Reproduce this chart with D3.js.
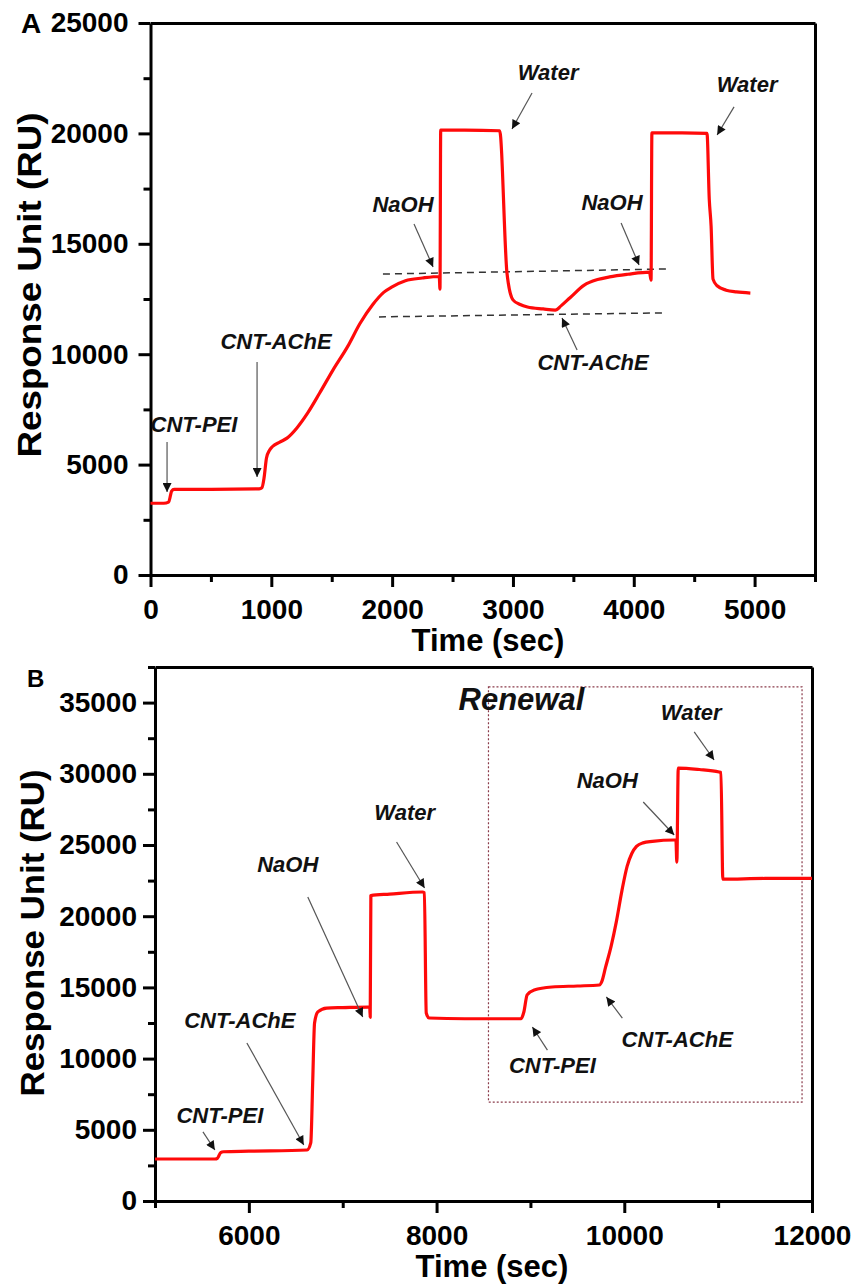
<!DOCTYPE html>
<html>
<head>
<meta charset="utf-8">
<script src="https://cdn.jsdelivr.net/npm/d3@7"></script>
<style>
  body { margin: 0; background: #fff; }
  text { font-family: "Liberation Sans", Arial, sans-serif; font-weight: bold; fill: #000; }
  .ann { font-style: italic; font-size: 22px; fill: #111; }
</style>
</head>
<body>
<div id="chart"></div>
<script>
// ---- data ----
// panel A
var timeA = [0, 110, 150, 175, 195, 230, 500, 900, 922, 940, 960, 985, 1010, 1070, 1130, 1210, 1300, 1400, 1510, 1630, 1735, 1840, 1930, 2000, 2110, 2250, 2390, 2396, 2402, 2600, 2890, 2950, 2962, 3000, 3060, 3120, 3250, 3350, 3400, 3470, 3590, 3700, 3800, 3950, 4130, 4143, 4150, 4400, 4606, 4625, 4640, 4656, 4690, 4765, 4850, 4965];
var respA = [3250, 3250, 3300, 3800, 3880, 3880, 3880, 3900, 3950, 4400, 5300, 5650, 5820, 6020, 6200, 6650, 7330, 8240, 9280, 10330, 11400, 12250, 12800, 13050, 13330, 13450, 13520, 12950, 20150, 20150, 20120, 13700, 13200, 12460, 12250, 12140, 12050, 12000, 12200, 12545, 13130, 13380, 13500, 13620, 13720, 13350, 20020, 20020, 20000, 17000, 15800, 13400, 13100, 12900, 12820, 12770];
var xTicksA = [0, 1000, 2000, 3000, 4000, 5000];
var yTicksA = [0, 5000, 10000, 15000, 20000, 25000];
// baseline guides (dashed)
var guidesA = [
  [[1924, 13630], [4276, 13860]],
  [[1891, 11690], [4242, 11870]]
];
var notesA = [
  {label: "CNT-PEI",  tx: 360,  ty: 6480,  x1: 137,  y1: 6020,  x2: 137,  y2: 3760},
  {label: "CNT-AChE", tx: 1039, ty: 10240, x1: 882,  y1: 9650,  x2: 882,  y2: 4440},
  {label: "NaOH",     tx: 2090, ty: 16440, x1: 2181, y1: 15900, x2: 2339, y2: 13950},
  {label: "Water",    tx: 3291, ty: 22420, x1: 3158, y1: 21830, x2: 2992, y2: 20200},
  {label: "NaOH",     tx: 3820, ty: 16530, x1: 3895, y1: 15940, x2: 4044, y2: 14040},
  {label: "Water",    tx: 4938, ty: 21880, x1: 4830, y1: 21200, x2: 4690, y2: 19930},
  {label: "CNT-AChE", tx: 3663, ty: 9280,  x1: 3531, y1: 10190, x2: 3406, y2: 11640}
];

// panel B
var timeB = [5000, 5640, 5665, 5700, 5730, 6000, 6620, 6660, 6680, 6700, 6735, 6830, 7000, 7270, 7288, 7293, 7300, 7500, 7850, 7870, 7890, 7920, 8300, 8900, 8930, 8965, 9040, 9230, 9500, 9735, 9760, 9800, 9860, 9915, 9975, 10030, 10080, 10130, 10200, 10300, 10530, 10550, 10560, 10575, 10800, 11010, 11030, 11050, 11500, 12000];
var respB = [2950, 2950, 3000, 3400, 3460, 3500, 3580, 4100, 8300, 12500, 13280, 13550, 13580, 13620, 13620, 12900, 21450, 21550, 21700, 21650, 13200, 12850, 12800, 12800, 13270, 14470, 14820, 15030, 15100, 15170, 15400, 16400, 17900, 19600, 21800, 23500, 24400, 24900, 25150, 25250, 25350, 25350, 23800, 30400, 30300, 30130, 30100, 22600, 22650, 22650];
var xTicksB = [6000, 8000, 10000, 12000];
var yTicksB = [0, 5000, 10000, 15000, 20000, 25000, 30000, 35000];
var renewalBox = {t0: 8553, t1: 11894, v0: 6950, v1: 36100};
var notesB = [
  {label: "CNT-PEI",  tx: 5691,  ty: 5480,  x1: 5511,  y1: 4850,  x2: 5638,  y2: 3580},
  {label: "CNT-AChE", tx: 5904,  ty: 12150, x1: 5979,  y1: 11100, x2: 6585,  y2: 3930},
  {label: "NaOH",     tx: 6415,  ty: 23100, x1: 6628,  y1: 21350, x2: 7213,  y2: 12920},
  {label: "Water",    tx: 7660,  ty: 26760, x1: 7574,  y1: 25210, x2: 7872,  y2: 21980},
  {label: "NaOH",     tx: 9819,  ty: 29000, x1: 10202, y1: 28020, x2: 10532, y2: 25700},
  {label: "Water",    tx: 10713, ty: 33780, x1: 10745, y1: 32940, x2: 10957, y2: 30970},
  {label: "CNT-PEI",  tx: 9234,  ty: 8990,  x1: 9181,  y1: 10600, x2: 9021,  y2: 12220},
  {label: "CNT-AChE", tx: 10564, ty: 10810, x1: 9979,  y1: 12850, x2: 9809,  y2: 14330}
];

var svg = d3.select("#chart")
    .append("svg")
    .attr("width", 856)
    .attr("height", 1286);

// arrow head
svg.append("defs").append("marker")
    .attr("id", "head")
    .attr("viewBox", "0 0 10 10")
    .attr("refX", 10)
    .attr("refY", 5)
    .attr("markerWidth", 11)
    .attr("markerHeight", 9)
    .attr("markerUnits", "userSpaceOnUse")
    .attr("orient", "auto")
    .append("path")
    .attr("d", "M0,0 L10,5 L0,10 z")
    .attr("fill", "#111");

var fmt = d3.format("d");

function drawPanel(cfg) {
    var x = d3.scaleLinear().domain(cfg.xDomain).range(cfg.xRange);
    var y = d3.scaleLinear().domain(cfg.yDomain).range(cfg.yRange);
    var g = svg.append("g");
    var x0 = cfg.xRange[0], x1 = cfg.xRange[1], y0 = cfg.yRange[0], y1 = cfg.yRange[1];

    // minor ticks
    g.append("g")
        .attr("transform", `translate(0, ${y0})`)
        .call(d3.axisBottom(x).tickValues(cfg.xMinor).tickSize(7).tickFormat(""))
        .call(a => a.select(".domain").remove());
    g.append("g")
        .attr("transform", `translate(${x0}, 0)`)
        .call(d3.axisLeft(y).tickValues(cfg.yMinor).tickSize(7).tickFormat(""))
        .call(a => a.select(".domain").remove());

    // major ticks + labels
    var bx = g.append("g")
        .attr("transform", `translate(0, ${y0})`)
        .call(d3.axisBottom(x).tickValues(cfg.xTicks).tickFormat(fmt).tickSize(12).tickSizeOuter(0));
    bx.selectAll("text").attr("y", 24).attr("font-size", "28px");
    var ly = g.append("g")
        .attr("transform", `translate(${x0}, 0)`)
        .call(d3.axisLeft(y).tickValues(cfg.yTicks).tickFormat(fmt).tickSize(12).tickSizeOuter(0));
    ly.selectAll("text").attr("x", cfg.yLabelX).attr("font-size", "28px");

    // frame top / right
    g.append("g")
        .attr("transform", `translate(0, ${y1})`)
        .call(d3.axisTop(x).tickValues([]).tickSizeOuter(0));
    g.append("g")
        .attr("transform", `translate(${x1}, 0)`)
        .call(d3.axisRight(y).tickValues([]).tickSizeOuter(0));

    g.selectAll(".domain, .tick line")
        .attr("stroke", "#000")
        .attr("stroke-width", 3);
    g.selectAll(".tick text").attr("fill", "#000").attr("font-family", null);

    // axis titles
    g.append("text")
        .attr("x", cfg.xTitle[0])
        .attr("y", cfg.xTitle[1])
        .attr("text-anchor", "middle")
        .attr("font-size", "31px")
        .text("Time (sec)");
    g.append("text")
        .attr("transform", `translate(${cfg.yTitle[0]}, ${cfg.yTitle[1]}) rotate(-90)`)
        .attr("text-anchor", "middle")
        .attr("font-size", "34px")
        .attr("textLength", cfg.yTitleLen)
        .attr("lengthAdjust", "spacingAndGlyphs")
        .text("Response Unit (RU)");
    g.append("text")
        .attr("x", cfg.tag[0])
        .attr("y", cfg.tag[1])
        .attr("font-size", cfg.tag[2])
        .text(cfg.tagText);

    return {g: g, x: x, y: y};
}

function drawCurve(p, times, vals) {
    var pts = times.map((t, i) => [t, vals[i]]);
    p.g.append("path")
        .datum(pts)
        .attr("fill", "none")
        .attr("stroke", "#ff0a0a")
        .attr("stroke-width", 3.2)
        .attr("stroke-linejoin", "round")
        .attr("d", d3.line()
            .x(d => p.x(d[0]))
            .y(d => p.y(d[1]))
            .curve(d3.curveMonotoneX));
}

function drawNotes(p, notes) {
    p.g.selectAll(null)
        .data(notes)
        .enter()
        .append("line")
        .attr("x1", d => p.x(d.x1))
        .attr("y1", d => p.y(d.y1))
        .attr("x2", d => p.x(d.x2))
        .attr("y2", d => p.y(d.y2))
        .attr("stroke", "#555")
        .attr("stroke-width", 1.2)
        .attr("marker-end", "url(#head)");
    p.g.selectAll(null)
        .data(notes)
        .enter()
        .append("text")
        .attr("class", "ann")
        .attr("x", d => p.x(d.tx))
        .attr("y", d => p.y(d.ty))
        .attr("text-anchor", "middle")
        .text(d => d.label);
}

// ---- panel A ----
var pA = drawPanel({
    xDomain: [0, 5500], xRange: [150.5, 815],
    yDomain: [0, 25000], yRange: [575, 23],
    xTicks: xTicksA, yTicks: yTicksA,
    xMinor: d3.range(500, 5501, 1000), yMinor: d3.range(2500, 25000, 5000),
    yLabelX: -22,
    xTitle: [488, 651], yTitle: [41, 285], yTitleLen: 345,
    tag: [21, 33, "28px"], tagText: "A"
});

pA.g.selectAll(null)
    .data(guidesA)
    .enter()
    .append("line")
    .attr("x1", d => pA.x(d[0][0]))
    .attr("y1", d => pA.y(d[0][1]))
    .attr("x2", d => pA.x(d[1][0]))
    .attr("y2", d => pA.y(d[1][1]))
    .attr("stroke", "#333")
    .attr("stroke-width", 1.5)
    .attr("stroke-dasharray", "7,5");

drawCurve(pA, timeA, respA);
drawNotes(pA, notesA);

// ---- panel B ----
var pB = drawPanel({
    xDomain: [5000, 12000], xRange: [155, 812],
    yDomain: [0, 37500], yRange: [1201, 667],
    xTicks: xTicksB, yTicks: yTicksB,
    xMinor: d3.range(5000, 12000, 2000), yMinor: d3.range(2500, 37501, 5000),
    yLabelX: -18,
    xTitle: [492, 1277], yTitle: [44, 933], yTitleLen: 327,
    tag: [27, 687, "24px"], tagText: "B"
});

pB.g.append("rect")
    .attr("x", pB.x(renewalBox.t0))
    .attr("y", pB.y(renewalBox.v1))
    .attr("width", pB.x(renewalBox.t1) - pB.x(renewalBox.t0))
    .attr("height", pB.y(renewalBox.v0) - pB.y(renewalBox.v1))
    .attr("fill", "none")
    .attr("stroke", "#8a3b4a")
    .attr("stroke-width", 1.2)
    .attr("stroke-dasharray", "2,2");

drawCurve(pB, timeB, respB);
drawNotes(pB, notesB);

pB.g.append("text")
    .attr("class", "ann")
    .attr("x", pB.x(8904))
    .attr("y", pB.y(34480))
    .attr("text-anchor", "middle")
    .style("font-size", "31px")
    .text("Renewal");
</script>
</body>
</html>
